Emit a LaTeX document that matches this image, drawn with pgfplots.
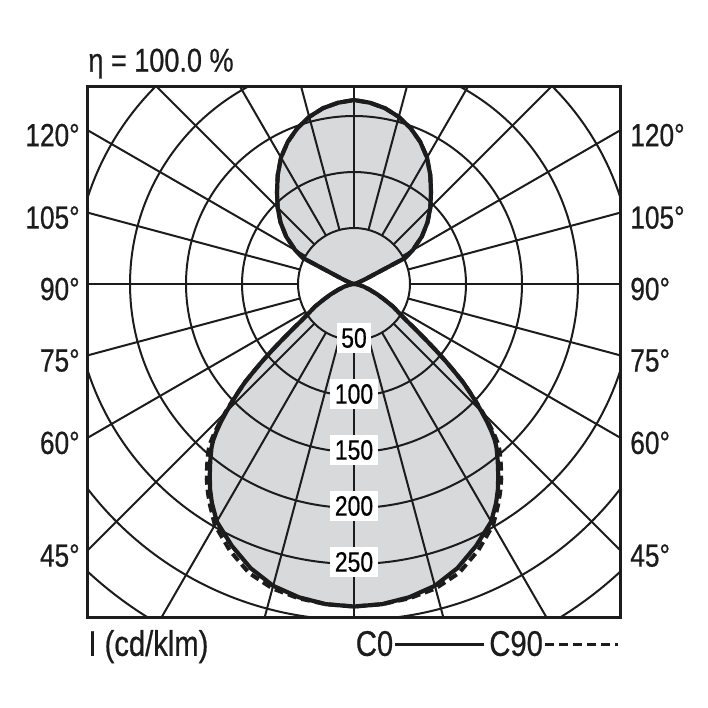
\documentclass[border=0pt]{standalone}
\usepackage{pgfplots}
\pgfplotsset{compat=1.18}
\usepackage{pgfplotstable}
\usepackage{fontspec}
\setmainfont{Liberation Sans}[FakeStretch=0.82, FakeBold=0.6]
\definecolor{lobegray}{RGB}{216,217,219}
\definecolor{ink}{RGB}{28,28,28}
\tikzset{gridline/.style={line width=1pt, ink}}
\newcommand{\sidefont}{\fontsize{16}{18}\selectfont}
\newcommand{\innerfont}{\fontsize{14}{16}\selectfont}
\newcommand{\titlefont}{\fontsize{16.5}{18}\selectfont}
\newcommand{\footfont}{\fontsize{17.8}{19}\selectfont}

% g = angle from nadir (negative: left half), I in cd/klm
\pgfplotstableread{
g I
-90 0
-85 2
-80 4.5
-75 9
-70 15
-66 23
-63 30
-60 40
-57 49
-56 53
-55 58
-54 65
-53 73
-52 83
-51 94
-50 106
-49 118
-48 131
-47 141
-46 151
-45 161
-44 171
-43 180
-42 188
-41 194
-39 204
-37 214
-35 224
-33 233
-30 245
-25 258
-20 270
-15 279
-10 284
-5 287
0 288
5 287
10 284
15 279
20 270
25 258
30 245
33 233
35 224
37 214
39 204
41 194
42 188
43 180
44 171
45 161
46 151
47 141
48 131
49 118
50 106
51 94
52 83
53 73
54 65
55 58
56 53
57 49
60 40
63 30
66 23
70 15
75 9
80 4.5
85 2
90 0
}\lowerCzero

\pgfplotstableread{
g I
-90 0
-85 2
-80 4.5
-75 9
-70 15
-66 23
-63 30
-60 40
-57 49
-56 53
-55 58
-54 65
-53 73
-52 83
-51 94
-50 106
-49 118
-48 131
-47 141
-46 152
-45 163
-44 173.5
-43 183.5
-42 192.5
-41 198.5
-39 208.5
-37 218.5
-35 227.5
-33 236
-30 248.5
-25 262.5
-20 274.5
-15 281.5
-10 285
-5 287
0 288
5 287
10 285
15 281.5
20 274.5
25 262.5
30 248.5
33 236
35 227.5
37 218.5
39 208.5
41 198.5
42 192.5
43 183.5
44 173.5
45 163
46 152
47 141
48 131
49 118
50 106
51 94
52 83
53 73
54 65
55 58
56 53
57 49
60 40
63 30
66 23
70 15
75 9
80 4.5
85 2
90 0
}\lowerCninety

% upper lobe, g from 90 to 270 (g > 180: left half)
\pgfplotstableread{
g I
90 0
105 2.7
113 10.7
117 51
120 60.7
125 74
130 85.7
135 96.4
140 107
145 118.75
150 130.4
155 140
160 148
165 154.5
170 159.4
175 162.5
180 164.3
185 162.5
190 159.4
195 154.5
200 148
205 140
210 130.4
215 118.75
220 107
225 96.4
230 85.7
235 74
240 60.7
243 51
247 10.7
255 2.7
270 0
}\upperlobe

\begin{document}
\begin{tikzpicture}
\begin{axis}[
  name=ax,
  x=0.56pt, y=0.56pt,
  xmin=-238, xmax=238, ymin=-298, ymax=176,
  xtick=\empty, ytick=\empty,
  axis line style={line width=1.5pt, ink},
]
% filled lobes
\addplot[fill=lobegray, draw=none] table[x expr={\thisrow{I}*sin(\thisrow{g})}, y expr={-\thisrow{I}*cos(\thisrow{g})}] {\lowerCzero};
\addplot[fill=lobegray, draw=none] table[x expr={\thisrow{I}*sin(\thisrow{g})}, y expr={-\thisrow{I}*cos(\thisrow{g})}] {\upperlobe};

% polar grid
\pgfplotsinvokeforeach{1,...,7}{
  \draw[gridline] (axis cs:0,0) circle[radius=#1*28pt];
}
\pgfplotsinvokeforeach{0,15,...,180}{
  \draw[gridline] (axis cs:0,0) ++({-90+#1}:28pt) -- ++({-90+#1}:420pt);
  \draw[gridline] (axis cs:0,0) ++({-90-#1}:28pt) -- ++({-90-#1}:420pt);
}

% intensity labels
\node[fill=white, inner xsep=2.2pt, inner ysep=2.5pt, font=\innerfont] at (axis cs:0,-48.2) {50};
\node[fill=white, inner xsep=2.2pt, inner ysep=2.5pt, font=\innerfont] at (axis cs:0,-98.2) {100};
\node[fill=white, inner xsep=2.2pt, inner ysep=2.5pt, font=\innerfont] at (axis cs:0,-148.2) {150};
\node[fill=white, inner xsep=2.2pt, inner ysep=2.5pt, font=\innerfont] at (axis cs:0,-198.2) {200};
\node[fill=white, inner xsep=2.2pt, inner ysep=2.5pt, font=\innerfont] at (axis cs:0,-248.2) {250};

% curves
\addplot[ink, line width=2pt, dash pattern=on 4.5pt off 2.5pt] table[x expr={\thisrow{I}*sin(\thisrow{g})}, y expr={-\thisrow{I}*cos(\thisrow{g})}] {\lowerCninety};
\addplot[ink, line width=2pt, dash pattern=on 4.5pt off 2.5pt] table[x expr={\thisrow{I}*sin(\thisrow{g})}, y expr={-\thisrow{I}*cos(\thisrow{g})}] {\upperlobe};
\addplot[ink, line width=2.1pt] table[x expr={\thisrow{I}*sin(\thisrow{g})}, y expr={-\thisrow{I}*cos(\thisrow{g})}] {\lowerCzero};
\addplot[ink, line width=2.1pt] table[x expr={\thisrow{I}*sin(\thisrow{g})}, y expr={-\thisrow{I}*cos(\thisrow{g})}] {\upperlobe};

% anchor points for the outer texts
\coordinate (bl) at (axis cs:-316.1,-378.6);
\coordinate (tr) at (axis cs:316.1,253.6);
\coordinate (L45) at (axis cs:-244.6,-242.5);
\coordinate (L60) at (axis cs:-244.6,-141.9);
\coordinate (L75) at (axis cs:-244.6,-68.3);
\coordinate (L90) at (axis cs:-244.6,-4.5);
\coordinate (L105) at (axis cs:-244.6,59.3);
\coordinate (L120) at (axis cs:-244.6,132.9);
\coordinate (R45) at (axis cs:246.4,-242.5);
\coordinate (R60) at (axis cs:246.4,-141.9);
\coordinate (R75) at (axis cs:246.4,-68.3);
\coordinate (R90) at (axis cs:246.4,-4.5);
\coordinate (R105) at (axis cs:246.4,59.3);
\coordinate (R120) at (axis cs:246.4,132.9);
\coordinate (title) at (axis cs:-237.5,189.6);
\coordinate (unit) at (axis cs:-237.5,-332);
\coordinate (czero) at (axis cs:1.3,-332);
\coordinate (czeroA) at (axis cs:36.3,-322);
\coordinate (czeroB) at (axis cs:115.9,-322);
\coordinate (cninety) at (axis cs:120.5,-332);
\coordinate (cninetyA) at (axis cs:170.5,-322);
\coordinate (cninetyB) at (axis cs:235.4,-322);
\end{axis}

\foreach \a in {45,60,75,90,105,120}{
  \node[anchor=east, inner sep=0pt, font=\sidefont, text=ink] at (L\a) {\a°};
  \node[anchor=west, inner sep=0pt, font=\sidefont, text=ink] at (R\a) {\a°};
}
\node[anchor=base west, inner sep=0pt, font=\titlefont, text=ink] at (title) {η = 100.0 \%};
\node[anchor=base west, inner sep=0pt, font=\footfont, text=ink] at (unit) {I (cd/klm)};
\node[anchor=base west, inner sep=0pt, font=\footfont, text=ink] at (czero) {C0};
\draw[ink, line width=1.8pt] (czeroA) -- (czeroB);
\node[anchor=base west, inner sep=0pt, font=\footfont, text=ink] at (cninety) {C90};
\draw[ink, line width=1.8pt, dash pattern=on 4.5pt off 2.5pt] (cninetyA) -- (cninetyB);

\pgfresetboundingbox
\useasboundingbox (bl) rectangle (tr);
\end{tikzpicture}
\end{document}
